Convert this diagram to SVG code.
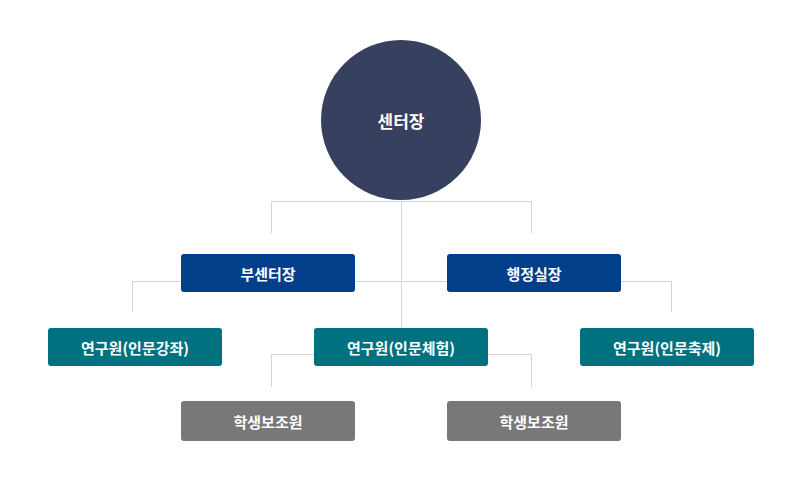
<svg xmlns="http://www.w3.org/2000/svg" width="803" height="493" viewBox="0 0 803 493">
<style>
.l{stroke:#d4d4d4;stroke-width:1;fill:none}
.t{font-family:"Noto Sans CJK KR","Noto Sans",sans-serif;font-size:15px;font-weight:bold;fill:#fff;text-anchor:middle;dominant-baseline:central}
.b1{fill:#023f8a}.b2{fill:#00717f}.b3{fill:#787878}
</style>
<rect width="803" height="493" fill="#fff"/>
<g id="connectors">
<path class="l" d="M271.5 233V201.5H531.5V233M401.5 201V328M132.5 312V281.5H671.5V312M271.5 387V354.5H531.5V387"/>
</g>
<g id="n0"><circle cx="401" cy="120" r="80" fill="#37405f"/><text class="t" x="401" y="120" style="font-size:17px">센터장</text></g>
<g id="n1"><rect class="b1" x="181" y="254" width="174" height="38" rx="3"/><text class="t" x="268" y="273">부센터장</text></g>
<g id="n2"><rect class="b1" x="447" y="254" width="174" height="38" rx="3"/><text class="t" x="534" y="273">행정실장</text></g>
<g id="n3"><rect class="b2" x="48" y="328" width="174" height="38" rx="3"/><text class="t" x="135" y="347">연구원(인문강좌)</text></g>
<g id="n4"><rect class="b2" x="314" y="328" width="174" height="38" rx="3"/><text class="t" x="401" y="347">연구원(인문체험)</text></g>
<g id="n5"><rect class="b2" x="580" y="328" width="174" height="38" rx="3"/><text class="t" x="667" y="347">연구원(인문축제)</text></g>
<g id="n6"><rect class="b3" x="181" y="401" width="174" height="40" rx="3"/><text class="t" x="268" y="421">학생보조원</text></g>
<g id="n7"><rect class="b3" x="447" y="401" width="174" height="40" rx="3"/><text class="t" x="534" y="421">학생보조원</text></g>
</svg>
